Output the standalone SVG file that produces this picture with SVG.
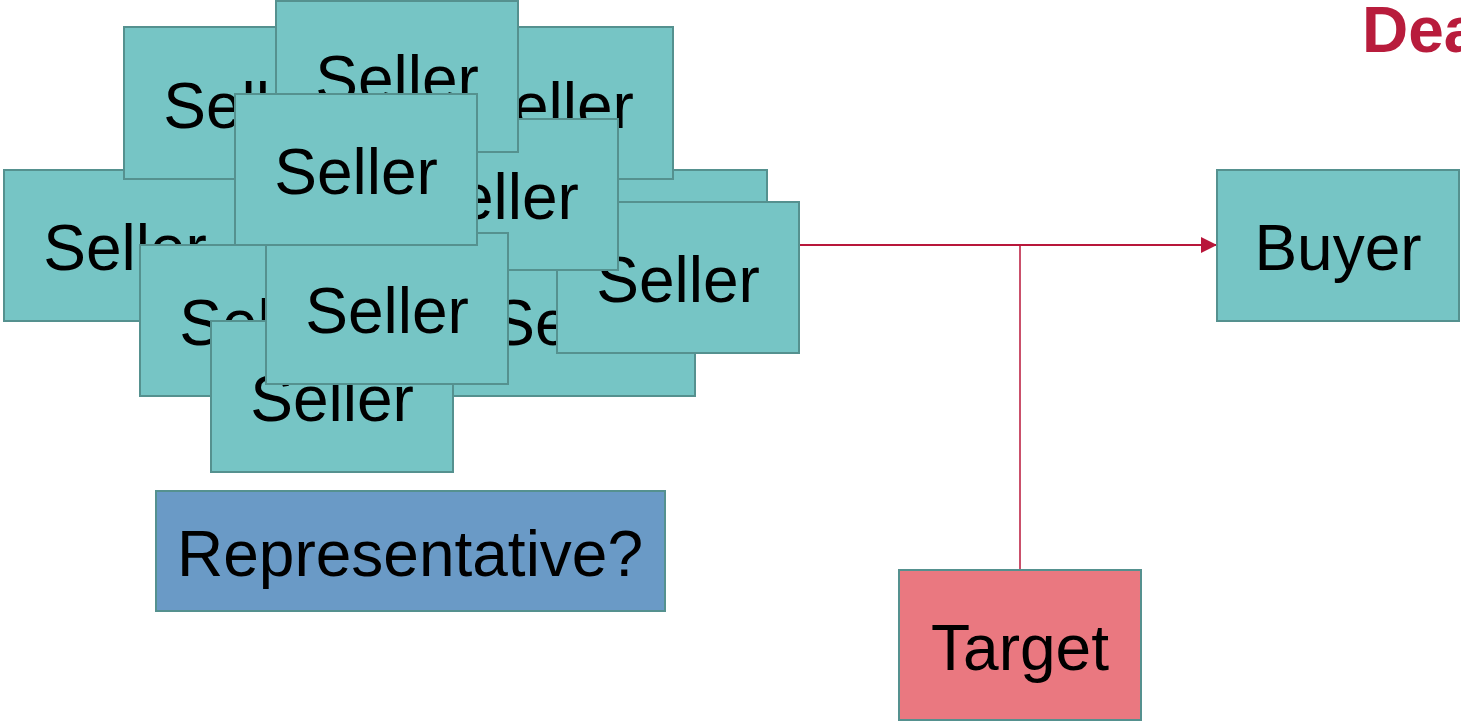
<svg xmlns="http://www.w3.org/2000/svg" width="1461" height="724" viewBox="0 0 1461 724">
<style>
.b{fill:#76C5C5;stroke:#55918F;stroke-width:2}
.t{font-family:"Liberation Sans",Arial,sans-serif;font-size:64px;fill:#000;text-anchor:middle}
.c{stroke:#B8163A;fill:none}
</style>
<defs>
<marker id="ah" markerWidth="16" markerHeight="16" refX="15" refY="8" orient="auto" markerUnits="userSpaceOnUse">
<path d="M0,0 L16,8 L0,16 Z" fill="#B8163A"/>
</marker>
</defs>
<rect width="1461" height="724" fill="#fff"/>
<text x="1362" y="52" font-family="Liberation Sans,Arial,sans-serif" font-weight="bold" font-size="64" fill="#B81C3C">Dea</text>
<g id="connectors">
<line class="c" x1="800" y1="245" x2="1216" y2="245" stroke-width="2.2" marker-end="url(#ah)"/>
<line class="c" x1="1020" y1="245" x2="1020" y2="570" stroke-width="1.5"/>
</g>
<g id="seller-d"><rect class="b" x="4" y="170" width="242" height="151"/><text class="t" x="125" y="270">Seller</text></g>
<g id="seller-e"><rect class="b" x="525" y="170" width="242" height="151"/><text class="t" x="646" y="270">Seller</text></g>
<g id="seller-a"><rect class="b" x="124" y="27" width="242" height="152"/><text class="t" x="245" y="128">Seller</text></g>
<g id="seller-c"><rect class="b" x="431" y="27" width="242" height="152"/><text class="t" x="552" y="128">Seller</text></g>
<g id="seller-i"><rect class="b" x="453" y="245" width="242" height="151"/><text class="t" x="574" y="345">Seller</text></g>
<g id="seller-l"><rect class="b" x="557" y="202" width="242" height="151"/><text class="t" x="678" y="302">Seller</text></g>
<g id="seller-f"><rect class="b" x="376" y="119" width="242" height="151"/><text class="t" x="497" y="219">Seller</text></g>
<g id="seller-b"><rect class="b" x="276" y="1" width="242" height="151"/><text class="t" x="397" y="101">Seller</text></g>
<g id="seller-h"><rect class="b" x="140" y="245" width="242" height="151"/><text class="t" x="261" y="345">Seller</text></g>
<g id="seller-j"><rect class="b" x="211" y="321" width="242" height="151"/><text class="t" x="332" y="421">Seller</text></g>
<g id="seller-k"><rect class="b" x="266" y="233" width="242" height="151"/><text class="t" x="387" y="333">Seller</text></g>
<g id="seller-g"><rect class="b" x="235" y="94" width="242" height="151"/><text class="t" x="356" y="194">Seller</text></g>
<g id="buyer"><rect class="b" x="1217" y="170" width="242" height="151"/><text class="t" x="1338" y="270">Buyer</text></g>
<g id="target"><rect class="b" x="899" y="570" width="242" height="150" style="fill:#EA7880"/><text class="t" x="1020" y="670">Target</text></g>
<g id="representative"><rect class="b" x="156" y="491" width="509" height="120" style="fill:#6A9AC6"/><text class="t" x="410" y="576">Representative?</text></g>
</svg>
